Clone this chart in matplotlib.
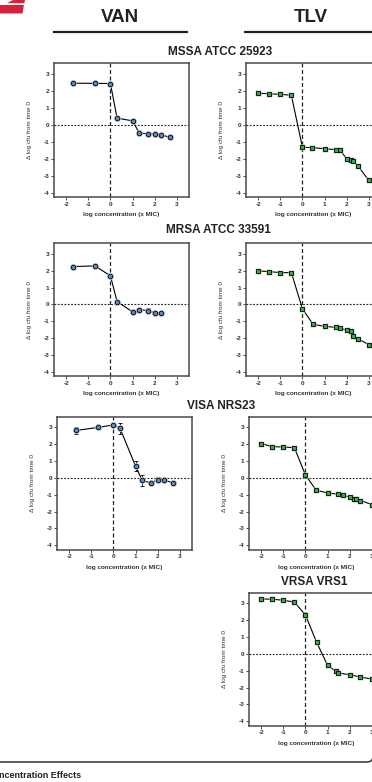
import matplotlib
matplotlib.use("Agg")
import matplotlib.pyplot as plt
from matplotlib.transforms import Affine2D
from matplotlib.patches import Polygon, FancyBboxPatch
from matplotlib.lines import Line2D

plt.rcParams['font.family'] = ['Liberation Sans', 'DejaVu Sans']

# ---------------- data ----------------
drug_headers = ["VAN", "TLV"]
strain_titles = ["MSSA ATCC 25923", "MRSA ATCC 33591", "VISA NRS23", "VRSA VRS1"]
x_ticks = [-2, -1, 0, 1, 2, 3]
y_ticks = [-4, -3, -2, -1, 0, 1, 2, 3]
x_label = "log concentration (x MIC)"
y_label = "\u0394 log cfu from time 0"
footer = "ncentration Effects"

van_mssa_x = [-1.7, -0.7, 0.0, 0.3, 1.0, 1.3, 1.7, 2.0, 2.3, 2.7]
van_mssa_y = [2.46, 2.45, 2.44, 0.40, 0.24, -0.47, -0.53, -0.52, -0.58, -0.74]
van_mssa_e = [0.10, 0.03, 0.03, 0.03, 0.03, 0.05, 0.03, 0.03, 0.10, 0.03]

van_mrsa_x = [-1.7, -0.7, 0.0, 0.3, 1.0, 1.3, 1.7, 2.0, 2.3]
van_mrsa_y = [2.25, 2.29, 1.70, 0.17, -0.44, -0.30, -0.37, -0.49, -0.51]
van_mrsa_e = [0.12, 0.03, 0.05, 0.03, 0.05, 0.05, 0.13, 0.05, 0.03]

van_visa_x = [-1.7, -0.7, 0.0, 0.3, 1.0, 1.3, 1.7, 2.0, 2.3, 2.7]
van_visa_y = [2.82, 3.00, 3.15, 2.94, 0.70, -0.15, -0.30, -0.10, -0.14, -0.28]
van_visa_e = [0.20, 0.05, 0.12, 0.30, 0.30, 0.32, 0.05, 0.15, 0.05, 0.05]

tlv_mssa_x = [-2.0, -1.5, -1.0, -0.5, 0.0, 0.45, 1.0, 1.5, 1.7, 2.0, 2.18, 2.27, 2.5, 3.0]
tlv_mssa_y = [1.87, 1.83, 1.81, 1.74, -1.32, -1.34, -1.40, -1.46, -1.50, -1.99, -2.05, -2.15, -2.41, -3.27]

tlv_mrsa_x = [-2.0, -1.5, -1.0, -0.5, 0.0, 0.48, 1.0, 1.5, 1.7, 2.0, 2.18, 2.27, 2.5, 3.0]
tlv_mrsa_y = [1.99, 1.95, 1.89, 1.89, -0.26, -1.18, -1.30, -1.36, -1.38, -1.54, -1.60, -1.89, -2.03, -2.39]

tlv_visa_x = [-2.0, -1.5, -1.0, -0.5, 0.0, 0.48, 1.0, 1.47, 1.7, 2.0, 2.18, 2.3, 2.48, 3.0]
tlv_visa_y = [2.04, 1.86, 1.84, 1.80, 0.18, -0.72, -0.90, -0.96, -1.04, -1.14, -1.24, -1.24, -1.34, -1.58]

tlv_vrsa_x = [-2.0, -1.5, -1.0, -0.5, 0.0, 0.5, 1.0, 1.37, 1.46, 2.0, 2.48, 3.0]
tlv_vrsa_y = [3.27, 3.25, 3.19, 3.08, 2.32, 0.71, -0.67, -1.03, -1.13, -1.23, -1.37, -1.49]

# ---------------- figure ----------------
W, H = 372, 782
fig = plt.figure(figsize=(W / 100, H / 100), dpi=100)
pix = Affine2D().scale(1.0 / W, -1.0 / H).translate(0, 1) + fig.transFigure

VAN_COLOR = "#4d8fd1"
TLV_COLOR = "#2fae45"
SPINE = "#4a4a4a"


def make_axes(left, top, right, bottom):
    return fig.add_axes([left / W, 1 - bottom / H, (right - left) / W, (bottom - top) / H])


def style(ax):
    ax.set_xlim(-2.55, 3.55)
    ax.set_ylim(-4.25, 3.65)
    ax.set_xticks(x_ticks)
    ax.set_yticks(y_ticks)
    ax.set_xticklabels([str(t) for t in x_ticks])
    ax.set_yticklabels([str(t) for t in y_ticks])
    ax.tick_params(axis='both', labelsize=4.6, length=2, width=0.6, pad=1.5,
                   colors='#333333', direction='out')
    for lab in ax.get_xticklabels() + ax.get_yticklabels():
        lab.set_fontweight('bold')
    for s in ax.spines.values():
        s.set_color(SPINE)
        s.set_linewidth(1.1)
    ax.axvline(0, color='#222222', lw=0.9, ls=(0, (3.2, 2.0)), zorder=1)
    ax.axhline(0, color='#222222', lw=0.8, ls=(0, (1.6, 1.4)), zorder=1)
    ax.set_xlabel(x_label, fontsize=4.6, fontweight='bold', color='#333333')
    ax.set_ylabel(y_label, fontsize=4.6, color='#333333')
    ax.xaxis.set_label_coords(0.5, -0.115)
    ax.yaxis.set_label_coords(-0.165, 0.5)


def plot_series(ax, x, y, color, marker, err=None):
    ax.plot(x, y, color='black', lw=0.8, zorder=2)
    if err is not None:
        ax.errorbar(x, y, yerr=err, fmt='none', ecolor='black', elinewidth=0.6,
                    capsize=1.4, capthick=0.6, zorder=3)
    ax.plot(x, y, ls='none', marker=marker, ms=5.0, mfc='#c9c9c9', mec='none', zorder=4)
    ax.plot(x, y, ls='none', marker=marker, ms=3.3, mfc=color, mec='black', mew=0.6, zorder=5)


# row 1
ax = make_axes(54, 63, 189, 197); style(ax)
plot_series(ax, van_mssa_x, van_mssa_y, VAN_COLOR, 'o', van_mssa_e)
ax = make_axes(246, 63, 381, 197); style(ax)
plot_series(ax, tlv_mssa_x, tlv_mssa_y, TLV_COLOR, 's')
# row 2
ax = make_axes(54, 243, 189, 376); style(ax)
plot_series(ax, van_mrsa_x, van_mrsa_y, VAN_COLOR, 'o', van_mrsa_e)
ax = make_axes(246, 243, 381, 376); style(ax)
plot_series(ax, tlv_mrsa_x, tlv_mrsa_y, TLV_COLOR, 's')
# row 3
ax = make_axes(57, 416.5, 192, 549.5); style(ax)
plot_series(ax, van_visa_x, van_visa_y, VAN_COLOR, 'o', van_visa_e)
ax = make_axes(249, 416.5, 384, 549.5); style(ax)
plot_series(ax, tlv_visa_x, tlv_visa_y, TLV_COLOR, 's')
# row 4
ax = make_axes(249, 592.5, 384, 725.5); style(ax)
plot_series(ax, tlv_vrsa_x, tlv_vrsa_y, TLV_COLOR, 's')

# headers
fig.text(120, 18, drug_headers[0], transform=pix, ha='center', va='center',
         fontsize=13.5, fontweight='bold', color='#222222')
fig.text(311, 18, drug_headers[1], transform=pix, ha='center', va='center',
         fontsize=13.5, fontweight='bold', color='#222222')
fig.add_artist(Line2D([54, 187], [32, 32], transform=pix, color='#222222', lw=1.6))
fig.add_artist(Line2D([245, 372], [32, 32], transform=pix, color='#222222', lw=1.6))

# strain titles
for (cx, cy), t in zip([(220, 52), (218, 230), (221, 406), (314, 582)], strain_titles):
    fig.text(cx, cy, t, transform=pix, ha='center', va='center', fontsize=8.5,
             fontweight='bold', color='#222222')

# red logo fragment
fig.add_artist(Polygon([(13, 0), (25, 0), (24.3, 3.2), (7, 3.2)], closed=True,
                       transform=pix, facecolor='#d8203c', edgecolor='none'))
fig.add_artist(Polygon([(0, 5.0), (23.9, 5.0), (22.5, 13.5), (0, 13.5)], closed=True,
                       transform=pix, facecolor='#d8203c', edgecolor='none'))

# bottom frame and footer
fig.add_artist(FancyBboxPatch((-20, -100), 393, 862,
                              boxstyle="round,pad=0,rounding_size=6",
                              transform=pix, facecolor='none', edgecolor='#333333', lw=1.1))
fig.text(-1, 776, footer, transform=pix, ha='left', va='center', fontsize=6.5,
         fontweight='bold', color='#222222')

fig.savefig("out.png", dpi=100)
